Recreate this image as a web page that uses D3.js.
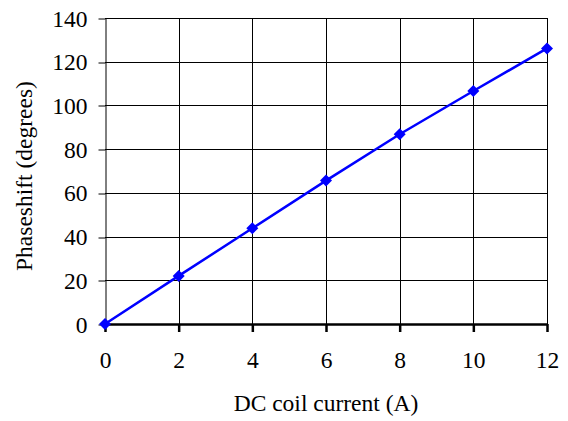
<!DOCTYPE html>
<html>
<head>
<meta charset="utf-8">
<script src="https://cdn.jsdelivr.net/npm/d3@7"></script>
<style>
	body { margin: 0; background: #fff; }
	svg { display: block; }
	text { font-family: "Liberation Serif", "Times New Roman", serif; fill: #000; }
</style>
</head>
<body>
<svg id="chart" width="568" height="421"></svg>
<script>
// data
const current = [ 0, 2, 4, 6, 8, 10, 12 ];
const phaseShift = [ 0, 22, 43.8, 65.6, 86.8, 106.6, 126.1 ];
const xTicks = [ 0, 2, 4, 6, 8, 10, 12 ];
const yTicks = [ 0, 20, 40, 60, 80, 100, 120, 140 ];

const xTitle = 'DC coil current (A)';
const yTitle = 'Phaseshift (degrees)';

const svg = d3.select( '#chart' );
const margin = { top: 18, right: 21, bottom: 97, left: 105 };
const width = 568 - margin.left - margin.right;
const height = 421 - margin.top - margin.bottom;
const fontSize = 23.5;

const x = d3.scaleLinear().domain( [ 0, 12 ] ).range( [ 0, width ] );
const y = d3.scaleLinear().domain( [ 0, 140 ] ).range( [ height, 0 ] );

const g = svg.append( 'g' )
	.attr( 'transform', `translate(${ margin.left },${ margin.top })` );

// grid
g.append( 'g' )
	.selectAll( 'line' )
	.data( yTicks.filter( d => d > 0 ) )
	.join( 'line' )
	.attr( 'x1', 0 )
	.attr( 'x2', width )
	.attr( 'y1', d => Math.round( y( d ) ) + 0.5 )
	.attr( 'y2', d => Math.round( y( d ) ) + 0.5 )
	.attr( 'stroke', '#000' );

g.append( 'g' )
	.selectAll( 'line' )
	.data( xTicks.filter( d => d > 0 ) )
	.join( 'line' )
	.attr( 'x1', d => Math.round( x( d ) ) + 0.5 )
	.attr( 'x2', d => Math.round( x( d ) ) + 0.5 )
	.attr( 'y1', 0 )
	.attr( 'y2', height )
	.attr( 'stroke', '#000' );

// y axis
const yAxis = g.append( 'g' )
	.attr( 'transform', 'translate(0.5,0)' )
	.call( d3.axisLeft( y ).tickValues( yTicks ).tickSize( 7 ).tickPadding( 11 ).tickSizeOuter( 0 ) );
yAxis.selectAll( 'text' ).style( 'font-size', fontSize + 'px' ).attr( 'dy', '0.34em' );
yAxis.selectAll( '.tick line' ).attr( 'transform', d => `translate(0,${ Math.round( y( d ) ) + 0.5 - y( d ) })` );
yAxis.select( 'path' ).attr( 'stroke', '#000' );

// x axis
const xAxis = g.append( 'g' )
	.attr( 'transform', `translate(0,${ height })` )
	.call( d3.axisBottom( x ).tickValues( xTicks ).tickSize( 8 ).tickPadding( 19 ).tickSizeOuter( 0 ) );
xAxis.selectAll( 'text' ).style( 'font-size', fontSize + 'px' );
xAxis.selectAll( '.tick line' ).attr( 'stroke-width', 2.5 );
xAxis.select( 'path' ).attr( 'stroke-width', 2.5 ).attr( 'stroke', '#000' );

// series
const pts = current.map( ( c, i ) => [ c, phaseShift[ i ] ] );

g.append( 'path' )
	.datum( pts )
	.attr( 'fill', 'none' )
	.attr( 'stroke', '#0000ff' )
	.attr( 'stroke-width', 2.5 )
	.attr( 'd', d3.line().x( d => x( d[ 0 ] ) ).y( d => y( d[ 1 ] ) ) );

g.append( 'g' )
	.selectAll( 'path' )
	.data( pts )
	.join( 'path' )
	.attr( 'd', d3.symbol( d3.symbolSquare, 72 ) )
	.attr( 'transform', d => `translate(${ x( d[ 0 ] ) },${ y( d[ 1 ] ) }) rotate(45)` )
	.attr( 'fill', '#0000ff' );

// titles
svg.append( 'text' )
	.attr( 'x', margin.left + width / 2 )
	.attr( 'y', 411 )
	.attr( 'text-anchor', 'middle' )
	.style( 'font-size', fontSize + 'px' )
	.text( xTitle );

svg.append( 'text' )
	.attr( 'transform', `translate(32,${ margin.top + height / 2 + 5 }) rotate(-90)` )
	.attr( 'text-anchor', 'middle' )
	.style( 'font-size', fontSize + 'px' )
	.text( yTitle );
</script>
</body>
</html>
